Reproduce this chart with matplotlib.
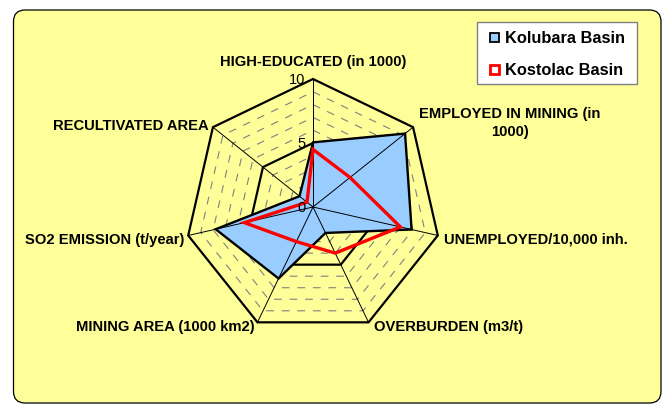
"""
Radar comparison of the Kolubara and Kostolac lignite basins.
Output: out.png (665x406)
"""
import matplotlib

matplotlib.use("agg")
import matplotlib.pyplot as plt  # noqa: E402
import numpy as np  # noqa: E402
from matplotlib.patches import FancyBboxPatch, Polygon, Rectangle  # noqa: E402

plt.rcParams["font.family"] = ["Liberation Sans", "DejaVu Sans"]

categories = [
    "HIGH-EDUCATED (in 1000)",
    "EMPLOYED IN MINING (in\n1000)",
    "UNEMPLOYED/10,000 inh.",
    "OVERBURDEN (m3/t)",
    "MINING AREA (1000 km2)",
    "SO2 EMISSION (t/year)",
    "RECULTIVATED AREA",
]
kolubara = [5.05, 9.2, 7.9, 2.25, 6.2, 7.8, 1.35]
kostolac = [4.5, 3.7, 7.0, 4.0, 3.0, 5.5, 0.6]
ticks = [0, 5, 10]

YELLOW = "#FFFF99"
BLUE = "#99CCFF"
RED = "#FF0000"

# pixel geometry: centre of the radar and pixels per unit
CX, CY, PPU = 313, 208, 12.8
W, H = 665, 406


def px(x, y):
    """pixel (from top-left) -> data coords"""
    return (x - CX) / PPU, (CY - y) / PPU


n = len(categories)
theta = np.arange(n) * 2 * np.pi / n


def xy(vals):
    v = np.asarray(vals, float)
    return np.column_stack([v * np.sin(theta), v * np.cos(theta)])


fig = plt.figure(figsize=(W / 100, H / 100), dpi=100)
ax = fig.add_axes([0, 0, 1, 1])
ax.set_xlim(px(0, 0)[0], px(W, 0)[0])
ax.set_ylim(px(0, H)[1], px(0, 0)[1])
ax.axis("off")

# yellow chart area
x0, y0 = px(13.5, 404)
x1, y1 = px(661, 11)
ax.add_patch(FancyBboxPatch((x0, y0), x1 - x0, y1 - y0,
                            boxstyle="round,pad=0,rounding_size=0.9",
                            fc=YELLOW, ec="black", lw=0.9, zorder=0))

# grid rings: major every 5 (solid), minor every 1 (dashed)
for r in range(1, 11):
    ring = xy([r] * n)
    if r % 5 == 0:
        ax.add_patch(Polygon(ring, closed=True, fill=False, ec="black",
                             lw=1.6, zorder=1))
    else:
        ax.add_patch(Polygon(ring, closed=True, fill=False, ec="#808080",
                             lw=0.8, ls=(0, (7, 7)), zorder=1))

# Kolubara filled area
ax.add_patch(Polygon(xy(kolubara), closed=True, fc=BLUE, ec="none", zorder=2))

# spokes
outer = xy([10] * n)
for ox, oy in outer:
    ax.plot([0, ox], [0, oy], color="black", lw=0.7, zorder=3)

ax.add_patch(Polygon(xy(kolubara), closed=True, fill=False, ec="black",
                     lw=1.7, zorder=4))
ax.add_patch(Polygon(xy(kostolac), closed=True, fill=False, ec=RED,
                     lw=2.4, joinstyle="miter", zorder=5))

# tick labels on the first spoke
for t in ticks:
    ax.text(-0.6, t, str(t), ha="right", va="center", fontsize=10.5, zorder=6)

# category labels
label_pos = [
    ((313, 62), "center", "center"),
    ((510, 123), "center", "center"),
    ((444, 240), "left", "center"),
    ((374, 327), "left", "center"),
    ((255, 327), "right", "center"),
    ((184, 240), "right", "center"),
    ((209, 126), "right", "center"),
]
for name, ((lx, ly), ha, va) in zip(categories, label_pos):
    tx, ty = px(lx, ly)
    ax.text(tx, ty, name, ha=ha, va=va, fontsize=10.6, fontweight="bold",
            linespacing=1.45, zorder=6)

# legend box
lx0, ly0 = px(477, 85)
lx1, ly1 = px(637, 23)
ax.add_patch(Rectangle((lx0, ly0), lx1 - lx0, ly1 - ly0, fc="white",
                       ec="#808080", lw=1.0, zorder=6))
s = 9 / PPU
for (ey, name, fc, ec) in [(38, "Kolubara Basin", BLUE, "black"),
                           (70, "Kostolac Basin", "white", RED)]:
    mx, my = px(494.5, ey)
    ax.add_patch(Rectangle((mx - s / 2, my - s / 2), s, s, fc=fc, ec=ec,
                           lw=2.0 if ec == RED else 1.3, zorder=7))
    tx, ty = px(505, ey)
    ax.text(tx, ty, name, ha="left", va="center", fontsize=11.8,
            fontweight="bold", zorder=7)

fig.savefig("out.png", dpi=100)
